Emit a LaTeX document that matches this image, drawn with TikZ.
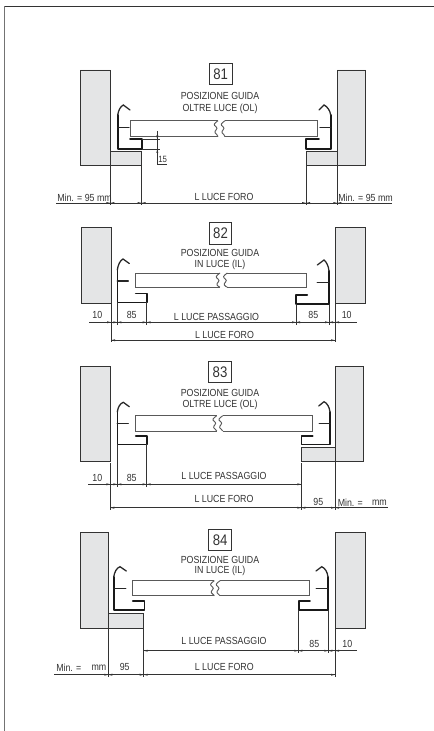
\documentclass[tikz,border=0pt]{standalone}
\usepackage{fontspec}
\setmainfont[FakeStretch=0.86]{Liberation Sans}
\definecolor{wallgray}{HTML}{E4E5E6}
\definecolor{ink}{HTML}{333333}
\tikzset{
  wallbox/.style={draw=ink,fill=wallgray,line width=.7pt,line join=miter},
  guideline/.style={draw=black!90,line width=1.2pt,line join=round,line cap=round},
  thinguide/.style={draw=black!85,line width=.95pt,line cap=round},
  panelline/.style={draw=black!65,line width=.7pt},
  dimline/.style={draw=ink,line width=.5pt},
  extline/.style={draw=ink,line width=.5pt},
  label/.style={inner sep=0pt,font=\fontsize{7.7pt}{8pt}\selectfont,text=ink,anchor=center},
  numbox/.style={draw=ink,line width=.6pt,inner sep=0pt,minimum width=17pt,minimum height=16pt,fill=white,text=ink},
}
\newcommand{\ar}[3]{\fill[ink] (#1,#2) -- ({#1+#3*4},#2-1) -- ({#1+#3*4},#2+1) -- cycle;}
\newcommand{\brk}[4]{\draw[panelline] (#1,#2) .. controls ({#1-4},{#2+3}) and ({#1-5},{#2+4}) .. ({#1-2},{#2+6}) .. controls ({#1+1},{#2+8}) and ({#1-4},{#2+10}) .. ({#1-3},{#2+12}) .. controls ({#1-2},{#2+14}) and ({#1},{#2+14}) .. (#1,#3);}
\newcommand{\boxnum}[4]{\node[numbox] (#1) at (#2,#3) {\fontsize{11.5pt}{11.5pt}\selectfont #4};}
\begin{document}
\begin{tikzpicture}[x=.75pt,y=-.75pt]
\useasboundingbox (0,0) rectangle (434,731);
\fill[white] (0,0) rectangle (434,731);
% page frame
\draw[black!80,line width=.9pt] (4.5,6.5) -- (434,6.5);
\draw[black!55,line width=1.2pt] (4.5,6.5) -- (4.5,731);

%%%%% 81
\boxnum{b81}{220.6}{74}{81}
\node[label] (t81a) at (220,96) {POSIZIONE GUIDA};
\node[label] (t81b) at (220,108.5) {OLTRE LUCE (OL)};
\draw[wallbox] (80.3,70) -- (110.3,70) -- (110.3,151) -- (141.8,151) -- (141.8,165.7) -- (80.3,165.7) -- cycle;
\draw[wallbox] (365.7,70) -- (337.3,70) -- (337.3,151) -- (306,151) -- (306,165.7) -- (365.7,165.7) -- cycle;
\draw[extline] (110.3,151) -- (110.3,205) (141.6,165.7) -- (141.6,205) (306,165.7) -- (306,205) (337.3,151) -- (337.3,205);
% panel
\draw[panelline] (218,120.7) -- (130.7,120.7) -- (130.7,136.7) -- (218,136.7);
\brk{218}{120.7}{136.7}{}
\draw[panelline] (225,120.7) -- (317.7,120.7) -- (317.7,136.7) -- (225,136.7);
\brk{225}{120.7}{136.7}{}
% guides
\draw[guideline] (130,139.3) -- (141.7,139.3) -- (141.7,149.3) -- (117.7,149.3) -- (117.7,115);
\draw[thinguide] (117.7,115) .. controls (118.5,110) and (120.5,106.5) .. (123.3,105) -- (130,110);
\draw[thinguide] (117.7,127.3) -- (129,127.3);
\draw[guideline] (319,139.3) -- (306,139.3) -- (306,149.3) -- (330.7,149.3) -- (330.7,115);
\draw[thinguide] (330.7,115) .. controls (330,110) and (327,106.5) .. (324,105) -- (319,110);
\draw[thinguide] (330.7,127.3) -- (320,127.3);
% 15 detail
\draw[extline] (142,139.3) -- (160,139.3) (142,149.3) -- (160,149.3);
\draw[extline] (157.3,131) -- (157.3,164.3) -- (167,164.3);
\fill[ink] (157.3,139.3) -- (156.3,135.5) -- (158.3,135.5) -- cycle;
\fill[ink] (157.3,149.3) -- (156.3,153) -- (158.3,153) -- cycle;
\node[label] (t15) at (162.7,159.5) {\fontsize{6.8pt}{7pt}\selectfont 15};
% dims
\draw[dimline] (56,203) -- (392,203);
\ar{110.3}{203}{-1}\ar{110.3}{203}{1}\ar{141.6}{203}{-1}\ar{141.6}{203}{1}
\ar{306}{203}{-1}\ar{306}{203}{1}\ar{337.3}{203}{-1}\ar{337.3}{203}{1}
\node[label,anchor=west] (t81c) at (57,197.5) {Min. = 95 mm};
\node[label] (t81d) at (224,197) {L LUCE FORO};
\node[label,anchor=west] (t81e) at (338,197.5) {Min. = 95 mm};

%%%%% 82
\boxnum{b82}{220.5}{233.5}{82}
\node[label] (t82a) at (220,253.3) {POSIZIONE GUIDA};
\node[label] (t82b) at (220,264.5) {IN LUCE (IL)};
\draw[wallbox] (81.3,227.7) rectangle (111,303);
\draw[wallbox] (335,227.7) rectangle (365,303);
\draw[panelline] (220,273) -- (135.7,273) -- (135.7,287) -- (220,287);
\brk{220}{273}{287}{}
\draw[panelline] (227.3,273) -- (306.7,273) -- (306.7,287) -- (227.3,287);
\brk{227.3}{273}{287}{}
\draw[guideline] (135.7,293.3) -- (146.7,293.3) -- (146.7,302.3) -- (117.3,302.3) -- (117.3,270);
\draw[thinguide] (117.3,270) .. controls (118,265) and (120,260.5) .. (123,259) -- (129.3,263.5);
\draw[thinguide] (117.3,281) -- (128.3,281);
\draw[guideline] (307.3,295) -- (296,295) -- (296,304) -- (329,304) -- (329,271);
\draw[thinguide] (329,271) .. controls (328.5,266) and (326.5,262) .. (324,260) -- (317.3,265);
\draw[thinguide] (329,282.3) -- (317.3,282.3);
\draw[extline] (111,303) -- (111,342) (335,303) -- (335,342) (117.3,302.3) -- (117.3,324.5) (146.7,302.3) -- (146.7,324.5) (296,304) -- (296,324.5) (329,304) -- (329,324.5);
\draw[dimline] (89.3,322.3) -- (356.7,322.3);
\ar{111}{322.3}{-1}\ar{117.3}{322.3}{-1}\ar{117.3}{322.3}{1}\ar{146.7}{322.3}{-1}\ar{146.7}{322.3}{1}
\ar{296}{322.3}{-1}\ar{296}{322.3}{1}\ar{329}{322.3}{-1}\ar{329}{322.3}{1}\ar{335}{322.3}{1}
\node[label] (t82c) at (97.3,315) {10};
\node[label] (t82d) at (131.7,315) {85};
\node[label] (t82e) at (216.5,317) {L LUCE PASSAGGIO};
\node[label] (t82f) at (313.3,315) {85};
\node[label] (t82g) at (346.7,315) {10};
\draw[dimline] (111,340.3) -- (335,340.3);
\ar{111}{340.3}{1}\ar{335}{340.3}{-1}
\node[label] (t82h) at (224.5,335) {L LUCE FORO};

%%%%% 83
\boxnum{b83}{220}{372.2}{83}
\node[label] (t83a) at (220,393.3) {POSIZIONE GUIDA};
\node[label] (t83b) at (220,405) {OLTRE LUCE (OL)};
\draw[wallbox] (80,366.3) rectangle (110.3,461);
\draw[wallbox] (363.3,366.3) -- (335,366.3) -- (335,447.3) -- (301.3,447.3) -- (301.3,461) -- (363.3,461) -- cycle;
\draw[panelline] (216.7,415.7) -- (135.7,415.7) -- (135.7,431) -- (216.7,431);
\brk{216.7}{415.7}{431}{}
\draw[panelline] (222.7,415.7) -- (312,415.7) -- (312,431) -- (222.7,431);
\brk{222.7}{415.7}{431}{}
\draw[guideline] (135.7,436) -- (146.7,436) -- (146.7,444.3) -- (117.3,444.3) -- (117.3,412);
\draw[thinguide] (117.3,412) .. controls (118,407) and (120,403.5) .. (123.3,402.3) -- (129.3,406.7);
\draw[thinguide] (117.3,423.3) -- (128.3,423.3);
\draw[guideline] (312.7,436) -- (301.3,436) -- (301.3,444.3) -- (330,444.3) -- (330,412);
\draw[thinguide] (330,412) .. controls (329.5,407) and (327,403) .. (324,401.7) -- (318.7,406);
\draw[thinguide] (330,423.3) -- (319.3,423.3);
\draw[extline] (110.3,463.3) -- (110.3,510) (117.3,444.3) -- (117.3,486.5) (146.7,444.3) -- (146.7,486.5) (301.3,463.3) -- (301.3,510) (335,447.3) -- (335,510);
\draw[dimline] (88.3,484.3) -- (301.7,484.3);
\ar{110.3}{484.3}{-1}\ar{117.3}{484.3}{-1}\ar{117.3}{484.3}{1}\ar{146.7}{484.3}{-1}\ar{146.7}{484.3}{1}\ar{301.3}{484.3}{-1}
\node[label] (t83c) at (97.3,478) {10};
\node[label] (t83d) at (131.7,478) {85};
\node[label] (t83e) at (224,476) {L LUCE PASSAGGIO};
\draw[dimline] (110,507.7) -- (388.3,507.7);
\ar{110.3}{507.7}{1}\ar{301.3}{507.7}{-1}\ar{301.3}{507.7}{1}\ar{335}{507.7}{-1}\ar{335}{507.7}{1}
\node[label] (t83f) at (224,499.3) {L LUCE FORO};
\node[label] (t83g) at (318.3,502.3) {95};
\node[label,anchor=west] (t83h) at (337.5,502.3) {Min. =};
\node[label,anchor=east] (t83i) at (387,502.3) {mm};

%%%%% 84
\boxnum{b84}{220.2}{539.8}{84}
\node[label] (t84a) at (220,560) {POSIZIONE GUIDA};
\node[label] (t84b) at (220,571) {IN LUCE (IL)};
\draw[wallbox] (80,532.7) -- (108.3,532.7) -- (108.3,613.7) -- (143.7,613.7) -- (143.7,628) -- (80,628) -- cycle;
\draw[wallbox] (335.3,532.7) rectangle (365,628);
\draw[panelline] (214.3,580.7) -- (132.7,580.7) -- (132.7,595.7) -- (214.3,595.7);
\brk{214.3}{580.7}{595.7}{}
\draw[panelline] (220,580.7) -- (309.3,580.7) -- (309.3,595.7) -- (220,595.7);
\brk{220}{580.7}{595.7}{}
\draw[guideline] (132.7,601) -- (144.3,601) -- (144.3,610) -- (113.7,610) -- (113.7,577);
\draw[thinguide] (113.7,577) .. controls (114.5,572) and (116.5,568) .. (120,566.7) -- (126.3,571);
\draw[thinguide] (113.7,588.3) -- (125.7,588.3);
\draw[guideline] (310,601) -- (298.7,601) -- (298.7,610) -- (328,610) -- (328,577);
\draw[thinguide] (328,577) .. controls (327.5,572) and (325,568) .. (321.7,566.7) -- (316,571);
\draw[thinguide] (328,588.3) -- (316.3,588.3);
\draw[extline] (108.3,613.7) -- (108.3,677) (143.7,628) -- (143.7,677) (298.3,610) -- (298.3,653) (328.3,610) -- (328.3,653) (335,626) -- (335,677);
\draw[dimline] (143.7,650.7) -- (356.7,650.7);
\ar{143.7}{650.7}{1}\ar{298.3}{650.7}{-1}\ar{298.3}{650.7}{1}\ar{328.3}{650.7}{-1}\ar{328.3}{650.7}{1}\ar{335}{650.7}{1}
\node[label] (t84c) at (224,640.7) {L LUCE PASSAGGIO};
\node[label] (t84d) at (314.3,644) {85};
\node[label] (t84e) at (347.3,644) {10};
\draw[dimline] (54,674.7) -- (335,674.7);
\ar{108.3}{674.7}{-1}\ar{108.3}{674.7}{1}\ar{143.7}{674.7}{-1}\ar{143.7}{674.7}{1}\ar{335}{674.7}{-1}
\node[label,anchor=west] (t84f) at (56,667.5) {Min. =};
\node[label,anchor=east] (t84g) at (106.5,667.5) {mm};
\node[label] (t84h) at (124.7,666.5) {95};
\node[label] (t84i) at (224.3,667) {L LUCE FORO};
\end{tikzpicture}
\end{document}
